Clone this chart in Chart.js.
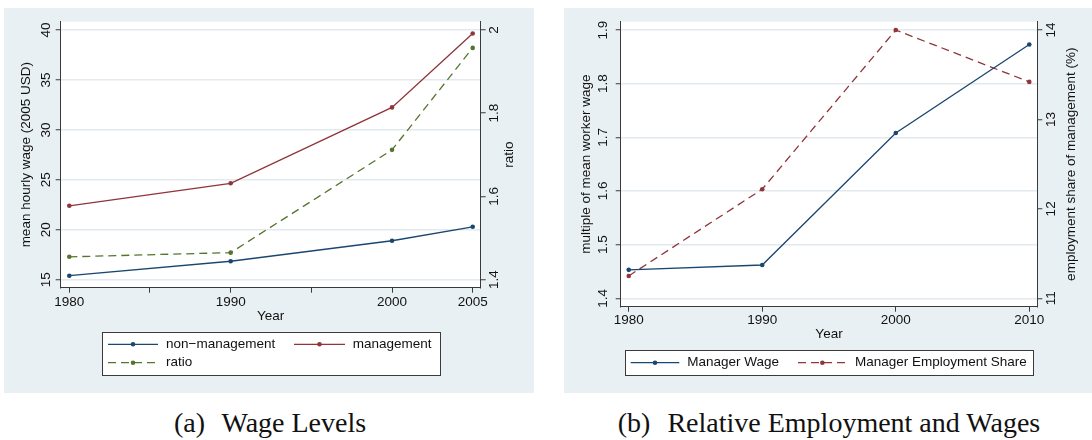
<!DOCTYPE html>
<html lang="en">
<head>
<meta charset="UTF-8">
<title>Wage Levels / Relative Employment and Wages</title>
<script src="https://cdn.jsdelivr.net/npm/chart.js"></script>
<style>
  body { margin: 0; background: #fff; width: 1092px; height: 440px; position: relative; overflow: hidden; }
  canvas { position: absolute; top: 8px; }
  #wageChart { left: 4px; }
  #shareChart { left: 564px; }
  .caption { position: absolute; top: 409px; line-height: 28px; font-family: "Liberation Serif", serif; font-size: 28px; color: #111; white-space: nowrap; transform: translateX(-50%); }
  .caption .tag { margin-right: 10px; }
</style>
</head>
<body>
<canvas id="wageChart" width="530" height="385"></canvas>
<canvas id="shareChart" width="528" height="385"></canvas>
<div class="caption" style="left:270px"><span class="tag">(a)</span> Wage Levels</div>
<div class="caption" style="left:829px"><span class="tag">(b)</span> Relative Employment and Wages</div>

<script>
// (a) wage levels
const wageYears = [1980, 1990, 2000, 2005];
const nonManagement = [15.4, 16.85, 18.9, 20.3];
const management = [22.4, 24.65, 32.25, 39.65];
const wageRatio = [1.455, 1.465, 1.712, 1.957];
const wageYearTicks = [1980, 1985, 1990, 1995, 2000, 2005];
const wageYearLabels = ['1980', '', '1990', '', '2000', '2005'];
const wageTicks = [15, 20, 25, 30, 35, 40];
const ratioTicks = [1.4, 1.6, 1.8, 2];

// (b) relative employment and wages
const shareYears = [1980, 1990, 2000, 2010];
const managerWage = [1.453, 1.462, 1.708, 1.873];
const managerShare = [11.25, 12.22, 14.0, 13.42];
const shareYearTicks = [1980, 1990, 2000, 2010];
const multipleTicks = [1.4, 1.5, 1.6, 1.7, 1.8, 1.9];
const shareTicks = [11, 12, 13, 14];

const NAVY = '#1a476f', MAROON = '#90353b', GREEN = '#55752f';
const AXIS = '#3a3a3a', GRID = '#e2eaef', TEXT = '#111', PANEL = '#e9f0f3';
const FONT = '13.5px "Liberation Sans", Arial, sans-serif';

Chart.defaults.font.family = '"Liberation Sans", Arial, sans-serif';
Chart.defaults.font.size = 13.5;
Chart.defaults.color = TEXT;

function toPoints(xs, ys) {
    return xs.map((x, i) => ({ x: x, y: ys[i] }));
}

function series(label, xs, ys, color, dashed, axis) {
    return {
        label: label,
        data: toPoints(xs, ys),
        yAxisID: axis,
        borderColor: color,
        backgroundColor: color,
        borderWidth: 1.3,
        borderDash: dashed ? [8, 5] : [],
        pointRadius: 2.3,
        pointBorderWidth: 0,
        pointBackgroundColor: color,
        tension: 0,
        fill: false
    };
}

function fixedTicks(values) {
    return s => { s.ticks = values.map(v => ({ value: v })); };
}

function yAxis(pos, min, max, ticks, width, onChart) {
    return {
        type: 'linear', position: pos, min: min, max: max,
        afterBuildTicks: fixedTicks(ticks),
        ticks: { display: false, callback: v => String(v) },
        grid: { drawOnChartArea: onChart, color: GRID, lineWidth: 1.5, tickColor: AXIS, tickWidth: 1, tickLength: 5 },
        border: { color: AXIS, width: 1 },
        afterFit: s => { s.width = width; }
    };
}

function xAxis(min, max, ticks, labels, height, pad) {
    return {
        type: 'linear', position: 'bottom', min: min, max: max,
        afterBuildTicks: fixedTicks(ticks),
        ticks: { autoSkip: false, maxRotation: 0, padding: pad, callback: v => labels[ticks.indexOf(v)] },
        grid: { drawOnChartArea: false, tickColor: AXIS, tickWidth: 1, tickLength: 5 },
        border: { color: AXIS, width: 1 },
        afterFit: s => { s.height = height; }
    };
}

function rotText(ctx, text, x, y) {
    ctx.save();
    ctx.translate(x, y);
    ctx.rotate(-Math.PI / 2);
    ctx.fillText(text, 0, 0);
    ctx.restore();
}

// Stata-ish frame: panel background, rotated axis text, boxed legend
const stataFrame = {
    id: 'stataFrame',
    beforeDraw(chart) {
        const ctx = chart.ctx, a = chart.chartArea;
        ctx.save();
        ctx.fillStyle = PANEL;
        ctx.fillRect(0, 0, chart.width, chart.height);
        ctx.fillStyle = '#fff';
        ctx.fillRect(a.left, a.top, a.right - a.left, a.bottom - a.top);
        ctx.restore();
    },
    afterDraw(chart, args, opts) {
        const ctx = chart.ctx, a = chart.chartArea;
        ctx.save();
        ctx.fillStyle = TEXT;
        ctx.font = FONT;
        ctx.textAlign = 'center';
        ctx.textBaseline = 'middle';
        ['y', 'y1'].forEach(id => {
            const s = chart.scales[id];
            const left = s.options.position === 'left';
            const tx = left ? a.left - opts.tickGap[0] : a.right + opts.tickGap[1];
            s.ticks.forEach(t => rotText(ctx, t.label, tx, s.getPixelForValue(t.value)));
            const ttx = left ? a.left - opts.titleGap[0] : a.right + opts.titleGap[1];
            rotText(ctx, opts.titles[id], ttx, (a.top + a.bottom) / 2);
        });
        ctx.fillText('Year', (a.left + a.right) / 2, a.bottom + opts.xTitleGap);

        // legend
        const b = opts.legend.box;
        ctx.fillStyle = '#fff';
        ctx.fillRect(b[0], b[1], b[2], b[3]);
        ctx.strokeStyle = AXIS;
        ctx.lineWidth = 1;
        ctx.strokeRect(Math.round(b[0]) + 0.5, Math.round(b[1]) + 0.5, Math.round(b[2]), Math.round(b[3]));
        opts.legend.items.forEach(it => {
            const ds = chart.data.datasets[it.ds];
            ctx.strokeStyle = ds.borderColor;
            ctx.lineWidth = ds.borderWidth;
            ctx.setLineDash(ds.borderDash);
            ctx.beginPath();
            ctx.moveTo(it.x, it.y);
            ctx.lineTo(it.x + it.w, it.y);
            ctx.stroke();
            ctx.setLineDash([]);
            ctx.fillStyle = ds.borderColor;
            ctx.beginPath();
            ctx.arc(it.x + it.w / 2, it.y, ds.pointRadius, 0, Math.PI * 2);
            ctx.fill();
            ctx.fillStyle = TEXT;
            ctx.textAlign = 'left';
            ctx.fillText(ds.label, it.tx, it.y);
        });
        ctx.restore();
    }
};

new Chart(document.getElementById('wageChart'), {
    type: 'line',
    data: {
        datasets: [
            series('non\u2212management', wageYears, nonManagement, NAVY, false, 'y'),
            series('management', wageYears, management, MAROON, false, 'y'),
            series('ratio', wageYears, wageRatio, GREEN, true, 'y1')
        ]
    },
    options: {
        responsive: false,
        animation: false,
        layout: { padding: { top: 13.7, left: 0, right: 0, bottom: 0 } },
        scales: {
            x: xAxis(1979.467, 2005.496, wageYearTicks, wageYearLabels, 105.3, 1),
            y: yAxis('left', 14.2, 40.83, wageTicks, 56.7, true),
            y1: yAxis('right', 1.3808, 2.0199, ratioTicks, 53.3, false)
        },
        plugins: {
            legend: { display: false },
            tooltip: { enabled: false },
            stataFrame: {
                tickGap: [14.9, 14],
                titleGap: [34.7, 29],
                xTitleGap: 28.3,
                titles: { y: 'mean hourly wage (2005 USD)', y1: 'ratio' },
                legend: {
                    box: [98.3, 323.7, 337.7, 43.3],
                    items: [
                        { ds: 0, x: 104, y: 336.3, w: 50, tx: 162 },
                        { ds: 1, x: 290, y: 336.3, w: 51, tx: 348.7 },
                        { ds: 2, x: 104, y: 354.7, w: 50, tx: 162 }
                    ]
                }
            }
        }
    },
    plugins: [stataFrame]
});

new Chart(document.getElementById('shareChart'), {
    type: 'line',
    data: {
        datasets: [
            series('Manager Wage', shareYears, managerWage, NAVY, false, 'y'),
            series('Manager Employment Share', shareYears, managerShare, MAROON, true, 'y1')
        ]
    },
    options: {
        responsive: false,
        animation: false,
        layout: { padding: { top: 13.7, left: 0, right: 0, bottom: 0 } },
        scales: {
            x: xAxis(1979.40, 2010.60, shareYearTicks, shareYearTicks.map(String), 86.3, 0),
            y: yAxis('left', 1.3843, 1.9155, multipleTicks, 56.7, true),
            y1: yAxis('right', 10.906, 14.093, shareTicks, 54.7, false)
        },
        plugins: {
            legend: { display: false },
            tooltip: { enabled: false },
            stataFrame: {
                tickGap: [17.1, 13.5],
                titleGap: [34.3, 34.4],
                xTitleGap: 27.6,
                titles: { y: 'multiple of mean worker wage', y1: 'employment share of management (%)' },
                legend: {
                    box: [61, 342, 408.3, 25],
                    items: [
                        { ds: 0, x: 66.7, y: 354.7, w: 48.6, tx: 123.3 },
                        { ds: 1, x: 234, y: 354.7, w: 48.7, tx: 291 }
                    ]
                }
            }
        }
    },
    plugins: [stataFrame]
});
</script>
</body>
</html>
